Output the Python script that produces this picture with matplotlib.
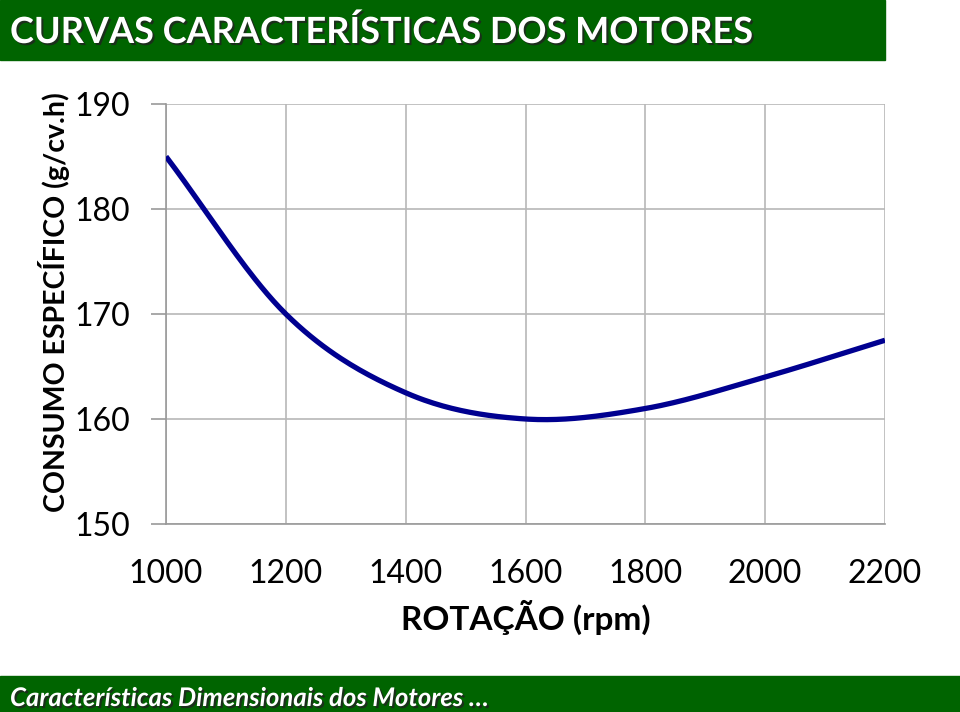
import numpy as np
import matplotlib
matplotlib.use("Agg")
import matplotlib.pyplot as plt
import matplotlib.patheffects as pe
from matplotlib.patches import Rectangle

rpm = [1000, 1200, 1400, 1600, 1800, 2000, 2200]
consumo = [185.0, 170.0, 162.5, 160.0, 161.0, 164.0, 167.5]
xticks = [1000, 1200, 1400, 1600, 1800, 2000, 2200]
yticks = [150, 160, 170, 180, 190]

title = "CURVAS CARACTERÍSTICAS DOS MOTORES"
footer = "Características Dimensionais dos Motores …"
xlabel = "ROTAÇÃO (rpm)"
ylabel = "CONSUMO ESPECÍFICO (g/cv.h)"

green = "#006400"
font = ["Lato", "DejaVu Sans"]


def smooth(x, y, n=40):
    # Catmull-Rom through the points (like a smoothed spreadsheet line)
    x = np.asarray(x, float)
    y = np.asarray(y, float)
    px = np.concatenate([[2 * x[0] - x[1]], x, [2 * x[-1] - x[-2]]])
    py = np.concatenate([[2 * y[0] - y[1]], y, [2 * y[-1] - y[-2]]])
    xs, ys = [], []
    t = np.linspace(0, 1, n)
    for i in range(1, len(px) - 2):
        for p, out in ((px, xs), (py, ys)):
            p0, p1, p2, p3 = p[i - 1], p[i], p[i + 1], p[i + 2]
            out.extend(0.5 * (2 * p1 + (-p0 + p2) * t
                              + (2 * p0 - 5 * p1 + 4 * p2 - p3) * t ** 2
                              + (-p0 + 3 * p1 - 3 * p2 + p3) * t ** 3))
    return np.array(xs), np.array(ys)


fig = plt.figure(figsize=(9.6, 7.12), dpi=100)
W, H = 960, 712

# header and footer bars
fig.add_artist(Rectangle((0, 1 - 60 / H), 885 / W, 60 / H, transform=fig.transFigure,
                         color=green, zorder=0))
fig.add_artist(Rectangle((0, 0), 1, 36 / H, transform=fig.transFigure,
                         color=green, zorder=0))
shadow = [pe.SimplePatchShadow(offset=(1.5, -1.5), shadow_rgbFace="#222222", alpha=0.8),
          pe.Normal()]
fig.text(10 / W, 1 - 32 / H, title, color="white", fontsize=26, fontweight="bold",
         family=font, va="center", ha="left", path_effects=shadow)
fig.text(10 / W, 14 / H, footer, color="white", fontsize=18.5, fontweight="bold",
         style="italic", family=font, va="center", ha="left", path_effects=shadow)

ax = fig.add_axes([166 / W, 1 - 524 / H, (885 - 166) / W, (524 - 104) / H])
sx, sy = smooth(rpm, consumo)
ax.plot(sx, sy, color="#000090", lw=3.8, solid_capstyle="butt", zorder=3)

ax.set_xlim(1000, 2200)
ax.set_ylim(150, 190)
ax.set_xticks(xticks)
ax.set_yticks(yticks)
ax.grid(True, color="#b8b8b8", lw=1.2)
for s in ["top", "right"]:
    ax.spines[s].set_visible(False)
ax.spines["left"].set_color("#999999")
ax.spines["bottom"].set_color("#999999")
ax.spines["left"].set_linewidth(1.2)
ax.spines["bottom"].set_linewidth(1.2)
ax.tick_params(axis="y", length=11, color="#999999", width=1.2, pad=15)
ax.tick_params(axis="x", length=0, pad=25)
for lab in ax.get_xticklabels() + ax.get_yticklabels():
    lab.set_family(font)
    lab.set_fontsize(23)

ax.set_xlabel(xlabel, family=font, fontsize=24, fontweight="bold", labelpad=8)
fig.text(54 / W, 1 - 302 / H, ylabel, rotation=90, family=font, fontsize=20.5,
         fontweight="bold", va="center", ha="center")

plt.savefig("out.png", dpi=100)
